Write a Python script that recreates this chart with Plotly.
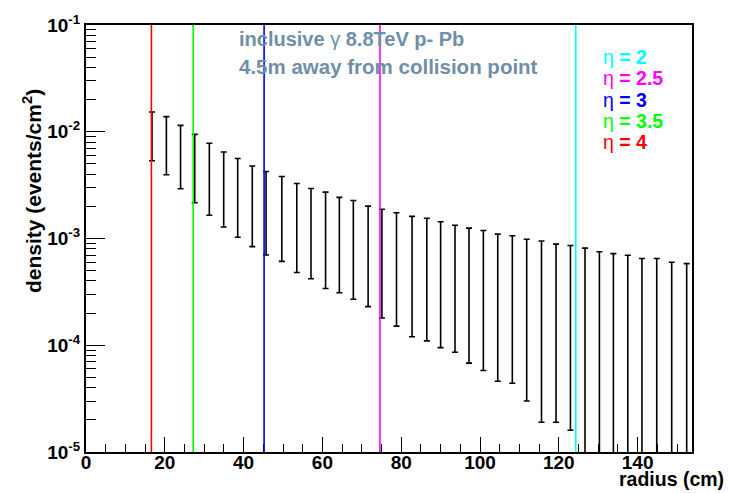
import plotly.graph_objects as go

# Photon hit density vs. radius, 4.5 m from the collision point
radius = [16.75, 20.4, 24.0, 27.6, 31.3, 34.95, 38.5, 42.2, 45.7, 49.7,
          53.5, 57.1, 60.8, 64.3, 67.85, 71.6, 75.1, 78.8, 82.75, 86.5,
          90.0, 93.65, 97.2, 100.85, 104.5, 108.2, 111.85, 115.6, 119.3, 122.95,
          126.65, 130.3, 133.85, 137.5, 141.1, 144.85, 148.65, 152.45]
density = [0.01033, 0.00891, 0.0072, 0.0058, 0.004725, 0.00387, 0.003318, 0.00281,
           0.00247, 0.00221, 0.001875, 0.00168, 0.00153, 0.00137, 0.00127, 0.00112,
           0.00103, 0.000946, 0.000865, 0.00083, 0.000765, 0.000708, 0.000659, 0.000624,
           0.000573, 0.000552, 0.000507, 0.000484, 0.000452, 0.000438, 0.0004, 0.00037,
           0.000355, 0.000343, 0.00032, 0.00032, 0.000295, 0.000286]
density_err = [0.00498, 0.00496, 0.00428, 0.00364, 0.003075, 0.00259, 0.002292, 0.00197,
               0.00177, 0.0016, 0.001395, 0.00126, 0.00119, 0.00106, 0.001, 0.00089,
               0.00085, 0.000795, 0.000745, 0.00072, 0.00067, 0.000622, 0.000591, 0.000566,
               0.000527, 0.000508, 0.000477, 0.000465, 0.000433, 0.000422, 0.000413, 0.000382,
               0.000366, 0.000353, 0.000329, 0.000329, 0.000305, 0.000295]

# Radius reached by each pseudorapidity at 4.5 m
eta_labels = ["2", "2.5", "3", "3.5", "4"]
eta_radius = [124.3, 74.6, 45.2, 27.2, 16.6]
eta_colors = ["#00ffff", "#ff00ff", "#0000ff", "#00ff00", "#ff0000"]

y_tick_vals = [1e-5, 1e-4, 1e-3, 1e-2, 1e-1]
y_tick_text = ["10<sup>-5</sup>", "10<sup>-4</sup>", "10<sup>-3</sup>", "10<sup>-2</sup>", "10<sup>-1</sup>"]
y_minor_vals = [m * 10.0 ** e for e in range(-5, -1) for m in range(2, 10)]

W, H = 729, 493
L, R, T, B = 86, 692, 15, 452


def px(x):
    return (x - L) / (R - L)


def py(y):
    return (B - y) / (B - T)


FONT = "Liberation Sans"

fig = go.Figure()
fig.add_trace(go.Scatter(
    x=radius, y=density, mode="markers",
    marker=dict(size=2, color="rgba(0,0,0,0)"),
    error_y=dict(type="data", array=density_err, symmetric=True,
                 color="black", thickness=1.6, width=3),
    showlegend=False, hoverinfo="skip",
))

shapes = []
for r, c in zip(eta_radius, eta_colors):
    shapes.append(dict(type="line", xref="x", yref="paper", x0=r, x1=r, y0=0, y1=1,
                       line=dict(color=c, width=1.6), layer="above"))

annotations = []
for i, (lab, c) in enumerate(zip(eta_labels, eta_colors)):
    annotations.append(dict(
        xref="paper", yref="paper", x=px(601), y=py(48 + 21.7 * i),
        xanchor="left", yanchor="middle", showarrow=False,
        text="η <b>= %s</b>" % lab,
        font=dict(family=FONT, size=19.5, color=c),
    ))

info_color = "rgb(112,142,168)"
annotations += [
    dict(xref="paper", yref="paper", x=px(237), y=py(29), xanchor="left", yanchor="middle",
         showarrow=False, text="<b>inclusive</b> γ <b>8.8TeV p- Pb</b>",
         font=dict(family=FONT, size=20, color=info_color)),
    dict(xref="paper", yref="paper", x=px(237), y=py(57), xanchor="left", yanchor="middle",
         showarrow=False, text="<b>4.5m away from collision point</b>",
         font=dict(family=FONT, size=20.5, color=info_color)),
    dict(xref="paper", yref="paper", x=px(32), y=py(185), xanchor="center", yanchor="middle",
         showarrow=False, textangle=-90, text="<b>density (events/cm<sup>2</sup>)</b>",
         font=dict(family=FONT, size=21, color="black")),
    dict(xref="paper", yref="paper", x=px(726), y=py(480), xanchor="right", yanchor="middle",
         showarrow=False, text="<b>radius (cm)</b>",
         font=dict(family=FONT, size=19.5, color="black")),
]

fig.update_layout(
    width=W, height=H,
    margin=dict(l=L, r=W - R, t=T, b=H - B),
    paper_bgcolor="white", plot_bgcolor="white",
    shapes=shapes, annotations=annotations,
    xaxis=dict(
        range=[0, 153.8], dtick=20, tick0=0,
        ticks="inside", ticklen=15, tickwidth=1.4, tickcolor="black",
        minor=dict(dtick=5, ticks="inside", ticklen=8, tickwidth=1.4, tickcolor="black"),
        showline=True, linecolor="black", linewidth=2, mirror=True,
        showgrid=False, zeroline=False, ticklabelstandoff=-8,
        tickfont=dict(family=FONT, size=19, color="black", weight="bold"),
    ),
    yaxis=dict(
        type="log", range=[-5, -1],
        tickmode="array", tickvals=y_tick_vals, ticktext=y_tick_text,
        ticks="inside", ticklen=19, tickwidth=1.4, tickcolor="black",
        minor=dict(tickmode="array", tickvals=y_minor_vals, ticks="inside",
                   ticklen=10, tickwidth=1.4, tickcolor="black"),
        showline=True, linecolor="black", linewidth=2, mirror=True,
        showgrid=False, zeroline=False,
        tickfont=dict(family=FONT, size=19, color="black", weight="bold"),
    ),
)

fig.write_html("out.html")
